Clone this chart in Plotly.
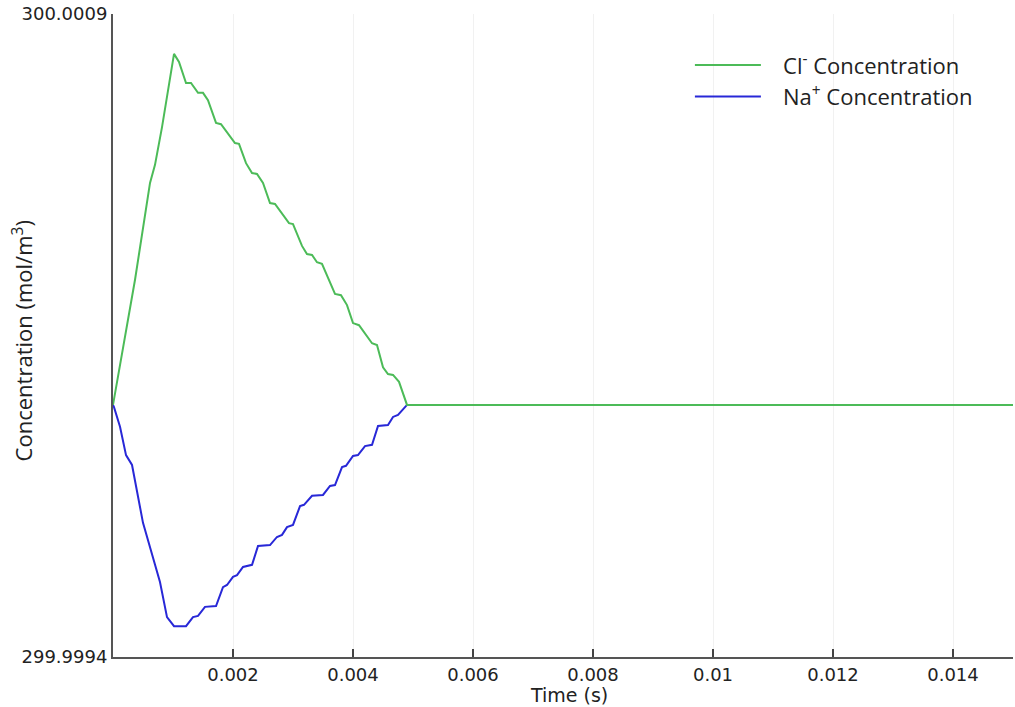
import plotly.graph_objects as go

# Time (s)
t_cl = [0, 0.0000833, 0.000367, 0.000617, 0.0007, 0.000817, 0.001017, 0.0011, 0.001217, 0.0013,
        0.001417, 0.0015, 0.001583, 0.001717, 0.0018, 0.002033, 0.0021, 0.002217, 0.002317, 0.0024,
        0.0025, 0.002617, 0.0027, 0.002933, 0.003, 0.00315, 0.003233, 0.003317, 0.0034, 0.003483,
        0.003617, 0.0037, 0.0038, 0.0039, 0.004, 0.0041, 0.004317, 0.0044, 0.0045, 0.004583,
        0.004667, 0.004767, 0.0049, 0.015]
c_cl = [299.999988, 300.000053, 300.000280, 300.000506, 300.000548, 300.000636, 300.000807, 300.000788,
        300.000739, 300.000739, 300.000716, 300.000716, 300.000699, 300.000646, 300.000643, 300.000599,
        300.000597, 300.000552, 300.000529, 300.000527, 300.000506, 300.000459, 300.000457, 300.000412,
        300.000410, 300.000359, 300.000340, 300.000338, 300.000321, 300.000317, 300.000272, 300.000247,
        300.000244, 300.000221, 300.000179, 300.000174, 300.000132, 300.000128, 300.000076, 300.000060,
        300.000058, 300.000042, 299.999988, 299.999988]

t_na = [0, 0.0000167, 0.000117, 0.000217, 0.000317, 0.0005, 0.000783, 0.0009, 0.001017, 0.001217,
        0.001333, 0.001417, 0.001533, 0.001717, 0.001833, 0.0019, 0.002, 0.002067, 0.002167, 0.002317,
        0.002417, 0.002617, 0.002733, 0.002817, 0.0029, 0.003, 0.003117, 0.003183, 0.003317, 0.0035,
        0.003617, 0.0037, 0.003817, 0.003883, 0.004, 0.004083, 0.0042, 0.004317, 0.004417, 0.004583,
        0.004667, 0.00475, 0.0049, 0.015]
c_na = [299.999988, 299.999983, 299.999937, 299.999871, 299.999848, 299.999713, 299.999575, 299.999493,
        299.999472, 299.999472, 299.999493, 299.999496, 299.999517, 299.999519, 299.999563, 299.999568,
        299.999587, 299.999591, 299.999610, 299.999615, 299.999659, 299.999661, 299.999680, 299.999685,
        299.999703, 299.999708, 299.999752, 299.999755, 299.999776, 299.999778, 299.999799, 299.999801,
        299.999843, 299.999846, 299.999869, 299.999871, 299.999892, 299.999895, 299.999939, 299.999941,
        299.999960, 299.999965, 299.999988, 299.999988]

x_ticks = [0.002, 0.004, 0.006, 0.008, 0.01, 0.012, 0.014]
x_tick_text = ["0.002", "0.004", "0.006", "0.008", "0.01", "0.012", "0.014"]
y_ticks = [299.9994, 300.0009]
y_tick_text = ["299.9994", "300.0009"]

GREEN = "rgb(76,187,88)"
BLUE = "rgb(40,40,215)"
PAD = "\u00a0\u00a0\u00a0"

fig = go.Figure()
fig.add_trace(go.Scatter(x=t_na, y=c_na, mode="lines", name=PAD + "Na<sup>+</sup> Concentration",
                         line=dict(color=BLUE, width=2), legendrank=2))
fig.add_trace(go.Scatter(x=t_cl, y=c_cl, mode="lines", name=PAD + "Cl<sup>-</sup> Concentration",
                         line=dict(color=GREEN, width=2), legendrank=1))

fig.update_layout(
    width=1015, height=707,
    margin=dict(l=113, r=2, t=14, b=50),
    paper_bgcolor="white", plot_bgcolor="white",
    showlegend=True,
    legend=dict(x=0.641, y=0.953, xanchor="left", yanchor="top",
                font=dict(family="Open Sans", size=22, color="#222"),
                itemwidth=66, bgcolor="rgba(0,0,0,0)"),
    font=dict(family="DejaVu Sans", size=18, color="#222"),
    annotations=[
        dict(text="Concentration (mol/m<sup>3</sup>)", xref="paper", yref="paper",
             x=-0.101, y=0.491, xanchor="center", yanchor="middle", textangle=-90,
             showarrow=False, font=dict(family="Open Sans", size=22, color="#222")),
        dict(text="Time (s)", xref="paper", yref="paper",
             x=0.507, y=-0.059, xanchor="center", yanchor="middle",
             showarrow=False, font=dict(family="DejaVu Sans", size=19, color="#222")),
    ],
)
fig.update_xaxes(
    range=[0, 0.015], tickvals=x_ticks, ticktext=x_tick_text,
    ticks="inside", ticklen=8, tickcolor="#444", tickwidth=1.5,
    showline=True, linecolor="#555", linewidth=2, mirror=False,
    showgrid=True, gridcolor="#f1f1f1", gridwidth=1, zeroline=False,
    tickfont=dict(family="DejaVu Sans", size=18, color="#222"), automargin=False,
)
fig.update_yaxes(
    range=[299.9994, 300.0009], tickvals=y_ticks, ticktext=y_tick_text,
    ticks="inside", ticklen=8, tickcolor="#444", tickwidth=1.5,
    showline=True, linecolor="#555", linewidth=2, mirror=False,
    showgrid=False, zeroline=False, automargin=False,
    tickfont=dict(family="DejaVu Sans", size=18, color="#222"),
)

fig.write_html("out.html")
